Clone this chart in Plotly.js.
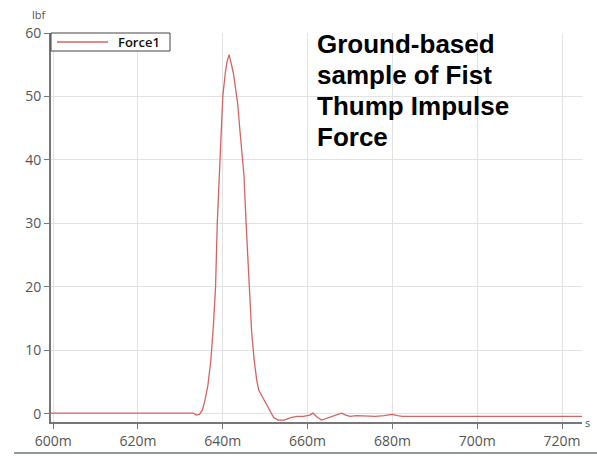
<!DOCTYPE html>
<html>
<head>
<meta charset="utf-8">
<script src="https://cdn.plot.ly/plotly-3.0.1.min.js"></script>
<style>
  html, body { margin: 0; padding: 0; background: #ffffff; }
  #chart { width: 597px; height: 461px; }
</style>
</head>
<body>
<div id="chart"></div>
<script>
// Time stamps of the force channel, in seconds
const timeS = [
  0.5995, 0.610, 0.620, 0.630, 0.6330, 0.6338, 0.6345, 0.6352, 0.6358, 0.6365,
  0.6372, 0.6378, 0.6383, 0.6387, 0.6391, 0.6396, 0.6400, 0.6406, 0.6410, 0.6415,
  0.6420, 0.6425, 0.6430, 0.6435, 0.6440, 0.6445, 0.6450, 0.6455, 0.6462, 0.6468,
  0.6474, 0.6480, 0.6485, 0.6492, 0.6500, 0.6510, 0.6520, 0.6530, 0.6545, 0.6560,
  0.6575, 0.6590, 0.6605, 0.6613, 0.6622, 0.6633, 0.6645, 0.6660, 0.6672, 0.6680,
  0.6690, 0.6700, 0.6715, 0.6738, 0.6760, 0.6780, 0.6800, 0.6812, 0.6824, 0.6850,
  0.6900, 0.7000, 0.7100, 0.7247
];

// Force1 readings, in lbf
const force1 = [
  0.1, 0.1, 0.1, 0.1, 0.1, -0.2, -0.1, 0.6, 2.1, 4.5,
  8.5, 14, 20, 30, 36, 44.7, 50, 53.7, 55.5, 56.6,
  55.3, 53.7, 51.3, 49, 45, 41, 37.5, 30, 20, 13,
  8.5, 5.3, 3.7, 2.8, 1.8, 0.6, -0.6, -1.0, -1.0, -0.6,
  -0.4, -0.4, -0.2, 0.1, -0.5, -1.0, -0.7, -0.4, -0.1, 0.1,
  -0.2, -0.4, -0.3, -0.4, -0.4, -0.3, -0.1, -0.3, -0.4, -0.4,
  -0.4, -0.4, -0.4, -0.4
];

const seriesName = "Force1";
const titleLines = ["Ground-based", "sample of Fist", "Thump Impulse", "Force"];
const yUnit = "lbf";
const xUnit = "s";

const lineColor = "#d46464";
const tickFont = { family: "Open Sans, sans-serif", size: 14, color: "#555555" };
const titleFont = { family: "Liberation Sans, Arial, sans-serif", size: 26, color: "#000000", weight: "bold" };

// Plot area in pixels, used to place the paper-referenced extras
const M = { l: 51, r: 15, t: 33, b: 39 };
const W = 597, H = 461;
const PW = W - M.l - M.r, PH = H - M.t - M.b;
const px = v => (v - M.l) / PW;          // page x -> paper x
const py = v => (H - M.b - v) / PH;      // page y -> paper y

const trace = {
  x: timeS,
  y: force1,
  type: "scatter",
  mode: "lines",
  name: seriesName,
  line: { color: lineColor, width: 1.3 },
  showlegend: false
};

// Title block, one annotation per line
const titleAnnots = titleLines.map((t, i) => ({
  text: t,
  xref: "paper", yref: "paper",
  x: px(315), y: py(44 + i * 31),
  xanchor: "left", yanchor: "middle",
  align: "left",
  showarrow: false,
  font: titleFont
}));

const layout = {
  width: W,
  height: H,
  margin: M,
  paper_bgcolor: "#ffffff",
  plot_bgcolor: "#ffffff",
  xaxis: {
    range: [0.5995, 0.7247],
    tick0: 0.6,
    dtick: 0.02,
    tickformat: "~s",
    showgrid: true,
    gridcolor: "#e2e2e2",
    gridwidth: 1,
    zeroline: false,
    showline: true,
    linecolor: "#777777",
    linewidth: 2,
    ticks: "outside",
    ticklen: 5,
    tickcolor: "#777777",
    tickfont: tickFont
  },
  yaxis: {
    range: [-1.3, 60],
    tick0: 0,
    dtick: 10,
    showgrid: true,
    gridcolor: "#e2e2e2",
    gridwidth: 1,
    zeroline: false,
    showline: true,
    linecolor: "#777777",
    linewidth: 2,
    ticks: "outside",
    ticklen: 5,
    tickcolor: "#777777",
    tickfont: tickFont
  },
  annotations: titleAnnots.concat([
    {
      // series key text
      text: seriesName,
      xref: "paper", yref: "paper",
      x: px(116), y: py(42),
      xanchor: "left", yanchor: "middle",
      showarrow: false,
      font: { family: "Open Sans, sans-serif", size: 13, color: "#111111", weight: 600 }
    },
    {
      text: yUnit,
      xref: "paper", yref: "paper",
      x: px(39), y: py(14),
      xanchor: "center", yanchor: "middle",
      showarrow: false,
      font: { family: "Open Sans, sans-serif", size: 11, color: "#555555" }
    },
    {
      text: xUnit,
      xref: "paper", yref: "paper",
      x: px(583), y: py(423),
      xanchor: "left", yanchor: "middle",
      showarrow: false,
      font: { family: "Open Sans, sans-serif", size: 11, color: "#555555" }
    }
  ]),
  shapes: [
    {
      // series key box
      type: "rect",
      xref: "paper", yref: "paper",
      x0: px(51), x1: px(170), y0: py(33), y1: py(51),
      fillcolor: "#ffffff",
      line: { color: "#444444", width: 1 }
    },
    {
      // series key line sample
      type: "line",
      xref: "paper", yref: "paper",
      x0: px(57), x1: px(108), y0: py(42), y1: py(42),
      line: { color: lineColor, width: 1.5 }
    },
    {
      // separator rule under the chart
      type: "line",
      xref: "paper", yref: "paper",
      x0: px(14), x1: px(597), y0: py(453), y1: py(453),
      line: { color: "#8d9a98", width: 2 }
    }
  ]
};

Plotly.newPlot("chart", [trace], layout, { displayModeBar: false, staticPlot: true });
</script>
</body>
</html>
